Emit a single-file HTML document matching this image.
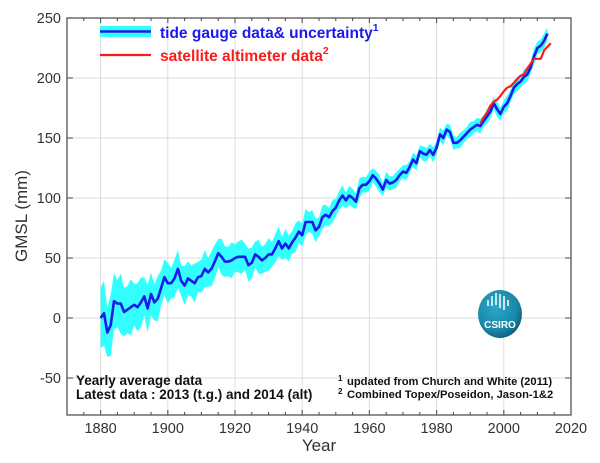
<!DOCTYPE html>
<html><head><meta charset="utf-8"><style>
html,body{margin:0;padding:0;background:#fff;}
svg{display:block;font-family:"Liberation Sans",Arial,sans-serif;}
</style></head><body>
<svg id="s" width="600" height="463" viewBox="0 0 600 463" xmlns="http://www.w3.org/2000/svg">
<defs>
<radialGradient id="g" cx="0.4" cy="0.35" r="0.7">
<stop offset="0" stop-color="#2aa7c9"/><stop offset="0.7" stop-color="#1a87a8"/><stop offset="1" stop-color="#0b5a73"/>
</radialGradient>
</defs>
<g id="grid" stroke="#ddd" stroke-width="1"></g>
<path id="band" fill="#33ffff" stroke="none"/>
<polyline id="tg" fill="none" stroke="#1a1aee" stroke-width="2.6" stroke-linejoin="round"/>
<polyline id="sat" fill="none" stroke="#ff1a1a" stroke-width="2.2" stroke-linejoin="round"/>
<rect x="67" y="18" width="504" height="397" fill="none" stroke="#555" stroke-width="1.3"/>
<g id="ticks" stroke="#555" stroke-width="1.1"></g>
<g id="lab" font-size="14.5" fill="#333"></g>
<text x="319" y="451" font-size="17" fill="#333" text-anchor="middle">Year</text>
<text transform="translate(27,216) rotate(-90)" font-size="17" fill="#333" text-anchor="middle">GMSL (mm)</text>
<rect x="100" y="26" width="51" height="11" fill="#33ffff"/>
<line x1="100" y1="31.5" x2="151" y2="31.5" stroke="#1a1aee" stroke-width="2.6"/>
<line x1="100" y1="55" x2="151" y2="55" stroke="#ff1a1a" stroke-width="2.2"/>
<text x="160" y="38" font-size="15.5" font-weight="bold" fill="#1a1aee">tide gauge data&amp; uncertainty<tspan font-size="10.5" dy="-7">1</tspan></text>
<text x="160" y="61" font-size="15.5" font-weight="bold" fill="#ff1a1a">satellite altimeter data<tspan font-size="10.5" dy="-7">2</tspan></text>
<text x="76" y="385" font-size="13.5" font-weight="bold" fill="#111">Yearly average data</text>
<text x="76" y="399" font-size="13.5" font-weight="bold" fill="#111">Latest data : 2013 (t.g.) and 2014 (alt)</text>
<text x="338" y="381" font-size="8" font-weight="bold" fill="#111">1</text>
<text x="347" y="385" font-size="11.2" font-weight="bold" fill="#111">updated from Church and White (2011)</text>
<text x="338" y="394" font-size="8" font-weight="bold" fill="#111">2</text>
<text x="347" y="398" font-size="11.2" font-weight="bold" fill="#111">Combined Topex/Poseidon, Jason-1&amp;2</text>
<ellipse cx="500" cy="314" rx="22" ry="24" fill="url(#g)"/>
<g stroke="#fff" stroke-width="1.5">
<line x1="488" y1="300" x2="488" y2="306"/><line x1="492" y1="296" x2="492" y2="306"/><line x1="496" y1="293" x2="496" y2="305"/>
<line x1="500" y1="294" x2="500" y2="308"/><line x1="504" y1="296" x2="504" y2="310"/><line x1="508" y1="300" x2="508" y2="306"/>
</g>
<text x="500" y="328" font-size="10" font-weight="bold" fill="#fff" text-anchor="middle">CSIRO</text>
</svg>
<script>
var X=function(y){return 67+(y-1870)*3.36},Y=function(v){return 318-1.2*v};
var tg=[0,4,-12,-6,14,12,12,5,7,9,11,9,13,18,8,20,13,16,25,34,29,29,33,41,31,27,33,31,29,34,35,41,38,41,47,54,51,47,47,48,50,51,51,51,44,46,53,51,48,50,53,53,58,64,58,62,58,63,67,72,69,80,80,80,73,76,84,86,84,89,92,98,102,98,102,100,97,108,111,111,114,119,116,112,107,115,112,113,115,119,122,121,126,132,129,139,137,136,140,136,142,153,150,157,155,146,146,148,151,154,157,159,161,160,164,168,172,179,174,170,176,179,185,192,195,197,201,203,209,218,225,227,231,237];
var sat=[162,167,171,177,180,182,185,189,192,193,196,199,202,203,208,212,216,216,216,223,226,229];
var sig=function(y){if(y<1900)return 25-(y-1880)*0.5;if(y<1930)return 15-(y-1900)*0.1;if(y<1950)return 12-(y-1930)*0.2;if(y<1970)return 8-(y-1950)*0.12;return 5.6;};
var up=[],dn=[],p=[];
tg.forEach(function(v,i){var y=1880+i,s=sig(y)*(1+0.15*Math.sin(i*2.3));up.push(X(y).toFixed(1)+","+Y(v+s).toFixed(1));dn.unshift(X(y).toFixed(1)+","+Y(v-s).toFixed(1));p.push(X(y).toFixed(1)+","+Y(v).toFixed(1));});
document.getElementById('band').setAttribute('d','M'+up.join('L')+'L'+dn.join('L')+'Z');
document.getElementById('tg').setAttribute('points',p.join(' '));
document.getElementById('sat').setAttribute('points',sat.map(function(v,i){return X(1993+i).toFixed(1)+","+Y(v).toFixed(1)}).join(' '));
var ns="http://www.w3.org/2000/svg",G=document.getElementById('grid'),T=document.getElementById('ticks'),L=document.getElementById('lab');
function el(par,t,a,txt){var e=document.createElementNS(ns,t);for(var k in a)e.setAttribute(k,a[k]);if(txt)e.textContent=txt;par.appendChild(e);}
for(var y=1880;y<=2020;y+=20){var x=X(y);if(y<2020)el(G,'line',{x1:x,y1:18,x2:x,y2:415});el(L,'text',{x:x,y:433,'text-anchor':'middle'},''+y);}
for(var y=1875;y<2020;y+=5){var x=X(y),l=(y%20==0)?5:3;el(T,'line',{x1:x,y1:415,x2:x,y2:415-l});el(T,'line',{x1:x,y1:18,x2:x,y2:18+l});}
for(var v=-50;v<=250;v+=50){var y=Y(v);if(v<250)el(G,'line',{x1:67,y1:y,x2:571,y2:y});el(L,'text',{x:61,y:y+5,'text-anchor':'end'},''+v);el(T,'line',{x1:67,y1:y,x2:73,y2:y});el(T,'line',{x1:571,y1:y,x2:565,y2:y});}
</script>
</body></html>
